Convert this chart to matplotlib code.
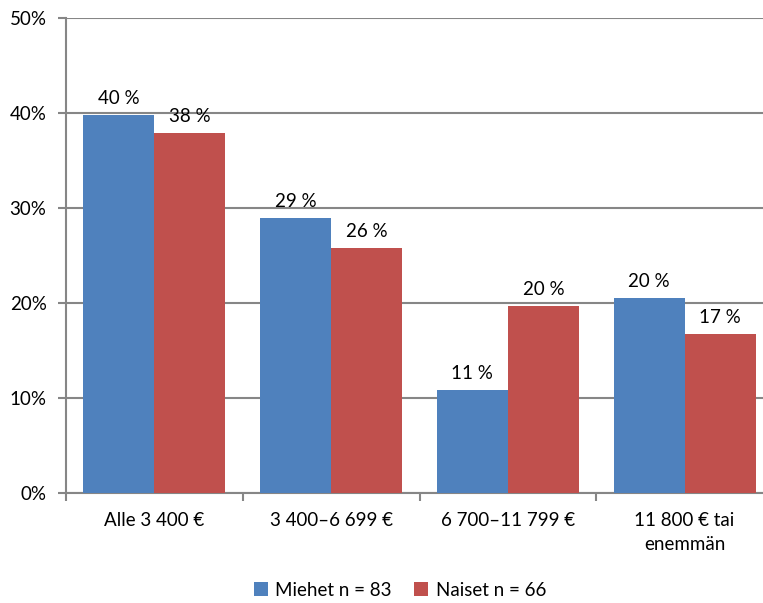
import matplotlib.pyplot as plt
import numpy as np

plt.rcParams['font.family'] = ['Lato', 'DejaVu Sans']

categories = ['Alle 3 400 €', '3 400–6 699 €', '6 700–11 799 €', '11 800 € tai\nenemmän']
miehet = [39.8, 28.9, 10.8, 20.5]
naiset = [37.9, 25.8, 19.7, 16.7]
miehet_labels = ['40 %', '29 %', '11 %', '20 %']
naiset_labels = ['38 %', '26 %', '20 %', '17 %']
series_names = ['Miehet n = 83', 'Naiset n = 66']

blue = '#4F81BD'
red = '#C0504D'
grid = '#868686'
fs = 13.5

fig = plt.figure(figsize=(7.63, 6.03), dpi=100)
ax = fig.add_axes([66 / 763, 1 - 493 / 603, (773 - 66) / 763, (493 - 18) / 603])

x = np.arange(len(categories))
w = 0.402
b1 = ax.bar(x - w / 2, miehet, w, color=blue, label=series_names[0], zorder=3)
b2 = ax.bar(x + w / 2, naiset, w, color=red, label=series_names[1], zorder=3)

for bars, labs in ((b1, miehet_labels), (b2, naiset_labels)):
    for rect, lab in zip(bars, labs):
        ax.annotate(lab, (rect.get_x() + rect.get_width() / 2, rect.get_height()),
                    xytext=(0, 6), textcoords='offset points',
                    ha='center', va='bottom', fontsize=fs)

ax.set_xlim(-0.5, len(categories) - 0.5)
ax.set_ylim(0, 50)
ax.set_yticks(np.arange(0, 51, 10))
ax.set_yticklabels(['%d%%' % v for v in range(0, 51, 10)], fontsize=fs)
ax.yaxis.grid(True, color=grid, linewidth=1.5, zorder=0)

ax.set_xticks(x)
ax.set_xticklabels(categories, fontsize=fs, linespacing=1.45)
ax.set_xticks(np.arange(-0.5, len(categories)), minor=True)
ax.tick_params(axis='x', which='major', length=0, pad=14)
ax.tick_params(axis='x', which='minor', length=6, width=1.5, color=grid)
ax.tick_params(axis='y', length=6, width=1.5, color=grid, pad=8)

for s in ('top', 'right'):
    ax.spines[s].set_visible(False)
ax.spines['left'].set_color(grid)
ax.spines['left'].set_linewidth(1.5)
ax.spines['bottom'].set_color(grid)
ax.spines['bottom'].set_linewidth(1.5)

fig.legend(handles=[b1, b2], loc='center', bbox_to_anchor=(400 / 763, 1 - 590 / 603),
           ncol=2, frameon=False, fontsize=fs, handlelength=0.75, handleheight=0.75,
           columnspacing=1.2, handletextpad=0.4)

fig.savefig('out.png', dpi=100)
